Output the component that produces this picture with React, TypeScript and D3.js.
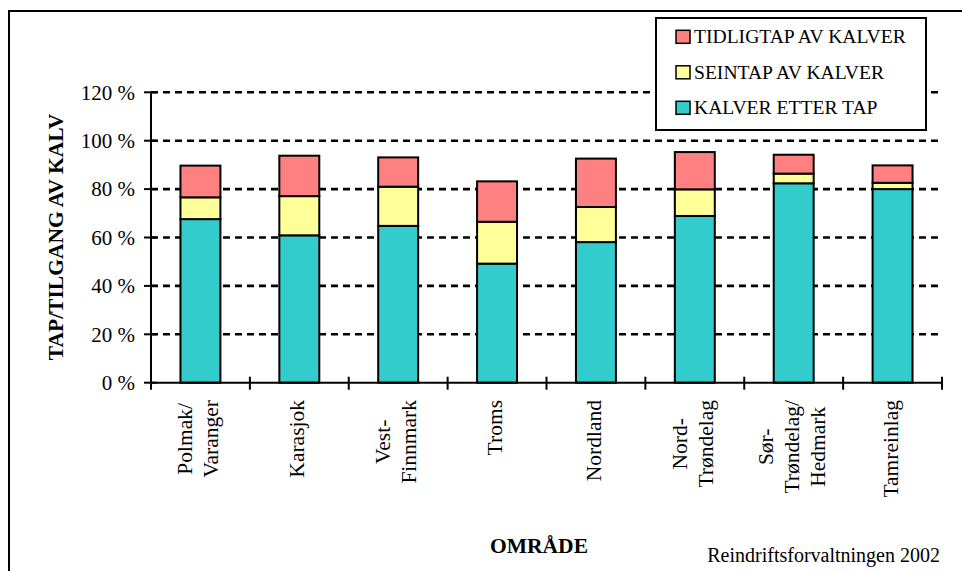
import React, { useEffect, useRef } from "react";
import * as d3 from "d3";

const categories: string[][] = [
  ["Polmak/", "Varanger"],
  ["Karasjok"],
  ["Vest-", "Finnmark"],
  ["Troms"],
  ["Nordland"],
  ["Nord-", "Trøndelag"],
  ["Sør-", "Trøndelag/", "Hedmark"],
  ["Tamreinlag"],
];
const kalverEtterTap = [67.6, 60.9, 64.8, 49.2, 58.1, 68.9, 82.4, 80.0];
const seintap = [9.0, 16.2, 16.2, 17.3, 14.5, 11.0, 4.0, 2.6];
const tidligtap = [13.1, 16.7, 12.1, 16.7, 20.0, 15.4, 7.8, 7.2];
const yTicks = [0, 20, 40, 60, 80, 100, 120];
const seriesNames = ["KALVER ETTER TAP", "SEINTAP AV KALVER", "TIDLIGTAP AV KALVER"];
const seriesColors = ["#33CCCC", "#FFFF99", "#FF8080"];
const legendOrder = [2, 1, 0];

const FONT = "'Liberation Serif', 'Times New Roman', serif";

export default function App() {
  const ref = useRef<SVGSVGElement>(null);

  useEffect(() => {
    const svg = d3.select(ref.current);
    svg.selectAll("*").remove();

    const left = 151, right = 942, top = 92.3, bottom = 382.7;
    const keys = categories.map((c) => c.join(" "));
    const x = d3
      .scaleBand<string>()
      .domain(keys)
      .range([left, right])
      .paddingInner(0.596)
      .paddingOuter(0.298);
    const y = d3.scaleLinear().domain([0, 120]).range([bottom, top]);

    // outer frame
    svg
      .append("rect")
      .attr("x", 9)
      .attr("y", 11)
      .attr("width", 980)
      .attr("height", 600)
      .attr("fill", "white")
      .attr("stroke", "black")
      .attr("stroke-width", 2);

    // gridlines
    svg
      .append("g")
      .selectAll("line")
      .data(yTicks.filter((t) => t > 0))
      .join("line")
      .attr("x1", left)
      .attr("x2", right)
      .attr("y1", (d) => y(d))
      .attr("y2", (d) => y(d))
      .attr("stroke", "black")
      .attr("stroke-width", 2.6)
      .attr("stroke-dasharray", "7,5");

    // stacked bars
    const table = keys.map((k, i) => ({
      key: k,
      s0: kalverEtterTap[i],
      s1: seintap[i],
      s2: tidligtap[i],
    }));
    const stack = d3.stack<any>().keys(["s0", "s1", "s2"]);
    const stacked = stack(table);
    stacked.forEach((layer, li) => {
      svg
        .append("g")
        .selectAll("rect")
        .data(layer)
        .join("rect")
        .attr("x", (d: any) => x(d.data.key)!)
        .attr("width", x.bandwidth())
        .attr("y", (d) => y(d[1]))
        .attr("height", (d) => y(d[0]) - y(d[1]))
        .attr("fill", seriesColors[li])
        .attr("stroke", "black")
        .attr("stroke-width", 2);
    });

    // axes
    svg
      .append("line")
      .attr("x1", left)
      .attr("x2", left)
      .attr("y1", top)
      .attr("y2", bottom + 1)
      .attr("stroke", "black")
      .attr("stroke-width", 2);
    svg
      .append("line")
      .attr("x1", left)
      .attr("x2", right)
      .attr("y1", bottom)
      .attr("y2", bottom)
      .attr("stroke", "black")
      .attr("stroke-width", 2);
    // y ticks
    svg
      .append("g")
      .selectAll("line")
      .data(yTicks)
      .join("line")
      .attr("x1", left - 7)
      .attr("x2", left + 6)
      .attr("y1", (d) => y(d))
      .attr("y2", (d) => y(d))
      .attr("stroke", "black")
      .attr("stroke-width", 2);
    svg
      .append("g")
      .selectAll("text")
      .data(yTicks)
      .join("text")
      .attr("x", 135)
      .attr("y", (d) => y(d))
      .attr("dy", "0.35em")
      .attr("text-anchor", "end")
      .attr("font-family", FONT)
      .attr("font-size", 21)
      .text((d) => `${d} %`);
    // x ticks at boundaries
    const bounds = d3.range(keys.length + 1).map((i) => left + i * x.step());
    svg
      .append("g")
      .selectAll("line")
      .data(bounds)
      .join("line")
      .attr("x1", (d) => d)
      .attr("x2", (d) => d)
      .attr("y1", bottom - 6)
      .attr("y2", bottom + 7)
      .attr("stroke", "black")
      .attr("stroke-width", 2);

    // x labels
    const lineGap = 26;
    categories.forEach((lines, i) => {
      const cx = x(keys[i])! + x.bandwidth() / 2;
      const g = svg.append("g");
      const texts = lines.map((ln) =>
        g
          .append("text")
          .attr("font-family", FONT)
          .attr("font-size", 21.5)
          .attr("text-anchor", "middle")
          .text(ln)
      );
      const maxLen = d3.max(texts, (t) => (t.node() as SVGTextElement).getComputedTextLength()) || 0;
      const cy = 400 + maxLen / 2;
      texts.forEach((t, j) => {
        const bx = cx + 5 + (j - (lines.length - 1) / 2) * lineGap;
        t.attr("transform", `translate(${bx},${cy}) rotate(-90)`);
      });
    });

    // axis titles
    svg
      .append("text")
      .attr("transform", `translate(63,237) rotate(-90)`)
      .attr("text-anchor", "middle")
      .attr("font-family", FONT)
      .attr("font-weight", "bold")
      .attr("font-size", 21.5)
      .text("TAP/TILGANG AV KALV");
    svg
      .append("text")
      .attr("x", 539)
      .attr("y", 553)
      .attr("text-anchor", "middle")
      .attr("font-family", FONT)
      .attr("font-weight", "bold")
      .attr("font-size", 21.5)
      .text("OMRÅDE");
    svg
      .append("text")
      .attr("x", 940)
      .attr("y", 562)
      .attr("text-anchor", "end")
      .attr("font-family", FONT)
      .attr("font-size", 20)
      .text("Reindriftsforvaltningen 2002");

    // legend
    const lg = svg.append("g");
    lg.append("rect")
      .attr("x", 656)
      .attr("y", 18)
      .attr("width", 270)
      .attr("height", 112)
      .attr("fill", "white")
      .attr("stroke", "black")
      .attr("stroke-width", 2);
    legendOrder.forEach((si, r) => {
      const base = 43.3 + r * 35.5;
      lg.append("rect")
        .attr("x", 676)
        .attr("y", base - 13)
        .attr("width", 14)
        .attr("height", 13)
        .attr("fill", seriesColors[si])
        .attr("stroke", "black")
        .attr("stroke-width", 1.5);
      lg.append("text")
        .attr("x", 694)
        .attr("y", base)
        .attr("font-family", FONT)
        .attr("font-size", 19.6)
        .text(seriesNames[si]);
    });
  }, []);

  return (
    <svg
      ref={ref}
      width={962}
      height={571}
      style={{ position: "absolute", left: 0, top: 0, background: "white" }}
    />
  );
}
